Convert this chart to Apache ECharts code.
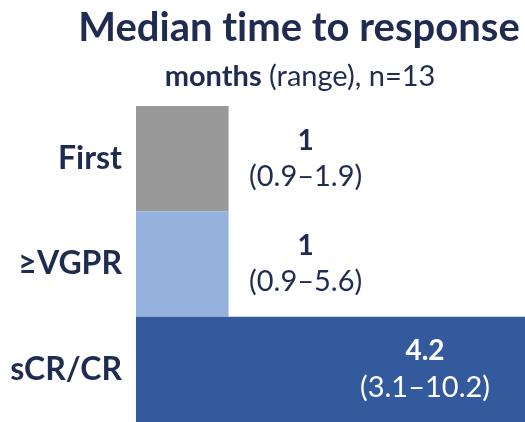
<!DOCTYPE html>
<html>
<head>
<meta charset="utf-8">
<script src="https://cdn.jsdelivr.net/npm/echarts@6/dist/echarts.min.js"></script>
<style>
  html, body { margin: 0; padding: 0; background: #fff; }
  #chart { width: 525px; height: 422px; }
</style>
</head>
<body>
<div id="chart"></div>
<script>
const categories = ['First', '≥VGPR', 'sCR/CR']
const medians = [1, 1, 4.2]
const ranges = ['0.9–1.9', '0.9–5.6', '3.1–10.2']
const barColors = ['#999999', '#95b1de', '#335a9d']

const navy = '#1f2b50'
const font = 'Lato'

const chart = echarts.init(document.getElementById('chart'))

const data = medians.map((v, i) => {
  const inside = v > 2 // big bar gets its label inside, in white
  return {
    value: v,
    itemStyle: { color: barColors[i] },
    label: {
      position: inside ? 'insideRight' : 'right',
      distance: inside ? 100 : 77,
      align: 'center',
      rich: {
        v: { fontWeight: 'bold', fontSize: 28, lineHeight: 36, color: inside ? '#fff' : navy, fontFamily: font },
        r: { fontSize: 29, lineHeight: 36, color: inside ? '#fff' : navy, fontFamily: font }
      }
    }
  }
})

chart.setOption({
  animation: false,
  backgroundColor: '#fff',
  title: [
    {
      // zwnj stops Lato from joining "ti"
      text: 'Median t\u200Cime to response',
      left: 294,
      top: 3,
      textAlign: 'center',
      textStyle: { fontFamily: font, fontWeight: 'bold', fontSize: 40, color: navy }
    },
    {
      text: '{b|months} (range), n=13',
      left: 295,
      top: 57,
      textAlign: 'center',
      textStyle: {
        fontFamily: font, fontWeight: 'normal', fontSize: 29, color: navy,
        rich: { b: { fontFamily: font, fontWeight: 'bold', fontSize: 29, color: navy } }
      }
    }
  ],
  grid: { left: 136, right: 0, top: 106, bottom: 0 },
  xAxis: {
    type: 'value',
    min: 0,
    max: 4.2,
    show: false
  },
  yAxis: {
    type: 'category',
    data: categories,
    inverse: true,
    axisLine: { show: false },
    axisTick: { show: false },
    axisLabel: {
      margin: 14,
      fontFamily: font,
      fontWeight: 'bold',
      fontSize: 32,
      color: navy
    }
  },
  series: [{
    type: 'bar',
    barWidth: '100%',
    data: data,
    label: {
      show: true,
      formatter: p => '{v|' + p.value + '}\n{r|(' + ranges[p.dataIndex] + ')}'
    }
  }]
})
</script>
</body>
</html>
